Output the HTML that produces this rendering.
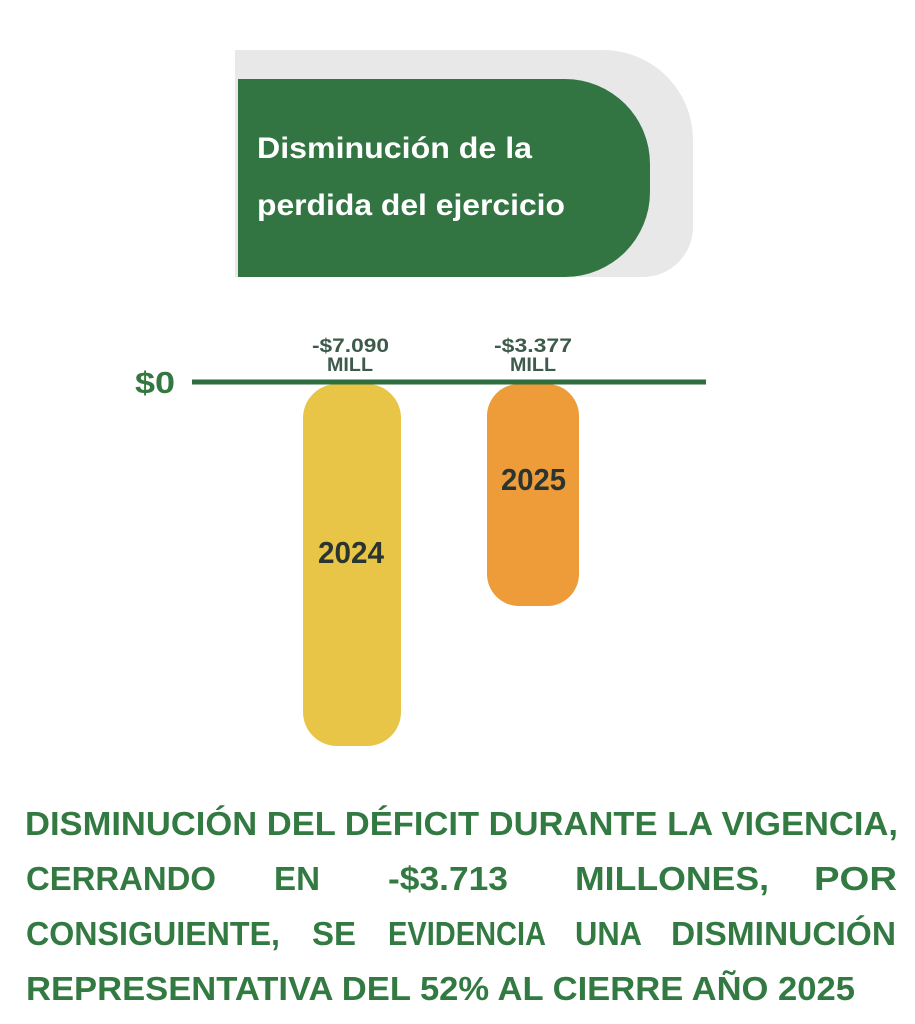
<!DOCTYPE html>
<html>
<head>
<meta charset="utf-8">
<style>
html,body{margin:0;padding:0;background:#ffffff;}
svg{display:block;}
</style>
</head>
<body>
<svg width="915" height="1024" viewBox="0 0 915 1024" xmlns="http://www.w3.org/2000/svg">
  <rect x="0" y="0" width="915" height="1024" fill="#ffffff"/>
  <!-- grey header backdrop -->
  <path d="M235 50 L603 50 A90 90 0 0 1 693 140 L693 227 A50 50 0 0 1 643 277 L235 277 Z" fill="#e8e8e8"/>
  <!-- green header -->
  <path d="M238 79 L565 79 A85 85 0 0 1 650 164 L650 192 A85 85 0 0 1 565 277 L238 277 Z" fill="#327542"/>
  <g font-family="'Liberation Sans', sans-serif" font-weight="bold" fill="#ffffff" font-size="30">
    <text x="257" y="158" textLength="275" lengthAdjust="spacingAndGlyphs">Disminución de la</text>
    <text x="257" y="215" textLength="308" lengthAdjust="spacingAndGlyphs">perdida del ejercicio</text>
  </g>

  <!-- bars -->
  <rect x="303" y="384" width="98" height="362" rx="34" ry="34" fill="#e8c547"/>
  <rect x="487" y="384" width="92" height="222" rx="32" ry="32" fill="#ee9b3a"/>

  <!-- zero line -->
  <line x1="192" y1="382" x2="706" y2="382" stroke="#2f6e3f" stroke-width="5"/>
  <text x="135" y="393" font-family="'Liberation Sans', sans-serif" font-weight="bold" font-size="31" fill="#34773f" textLength="40" lengthAdjust="spacingAndGlyphs">$0</text>

  <!-- value labels -->
  <g font-family="'Liberation Sans', sans-serif" font-weight="bold" font-size="19" fill="#3d5a4a">
    <text x="312" y="352" textLength="77" lengthAdjust="spacingAndGlyphs">-$7.090</text>
    <text x="327" y="371" textLength="46" lengthAdjust="spacingAndGlyphs">MILL</text>
    <text x="494" y="352" textLength="78" lengthAdjust="spacingAndGlyphs">-$3.377</text>
    <text x="510" y="371" textLength="46" lengthAdjust="spacingAndGlyphs">MILL</text>
  </g>

  <!-- year labels -->
  <g font-family="'Liberation Sans', sans-serif" font-weight="bold" font-size="31" fill="#2b3530">
    <text x="318" y="563" textLength="66" lengthAdjust="spacingAndGlyphs">2024</text>
    <text x="501" y="490" textLength="65" lengthAdjust="spacingAndGlyphs">2025</text>
  </g>

  <!-- bottom text -->
  <g font-family="'Liberation Sans Narrow', 'Liberation Sans', sans-serif" font-weight="bold" font-size="33" fill="#327a42">
    <text x="25" y="835" textLength="873" lengthAdjust="spacingAndGlyphs">DISMINUCIÓN DEL DÉFICIT DURANTE LA VIGENCIA,</text>

    <text x="26" y="890" textLength="190" lengthAdjust="spacingAndGlyphs">CERRANDO</text>
    <text x="274" y="890" textLength="46" lengthAdjust="spacingAndGlyphs">EN</text>
    <text x="388" y="890" textLength="120" lengthAdjust="spacingAndGlyphs">-$3.713</text>
    <text x="575" y="890" textLength="194" lengthAdjust="spacingAndGlyphs">MILLONES,</text>
    <text x="814" y="890" textLength="83" lengthAdjust="spacingAndGlyphs">POR</text>

    <text x="26" y="945" textLength="254" lengthAdjust="spacingAndGlyphs">CONSIGUIENTE,</text>
    <text x="312" y="945" textLength="44" lengthAdjust="spacingAndGlyphs">SE</text>
    <text x="388" y="945" textLength="158" lengthAdjust="spacingAndGlyphs">EVIDENCIA</text>
    <text x="575" y="945" textLength="67" lengthAdjust="spacingAndGlyphs">UNA</text>
    <text x="671" y="945" textLength="225" lengthAdjust="spacingAndGlyphs">DISMINUCIÓN</text>

    <text x="26" y="1000" textLength="829" lengthAdjust="spacingAndGlyphs">REPRESENTATIVA DEL 52% AL CIERRE AÑO 2025</text>
  </g>
</svg>
</body>
</html>
